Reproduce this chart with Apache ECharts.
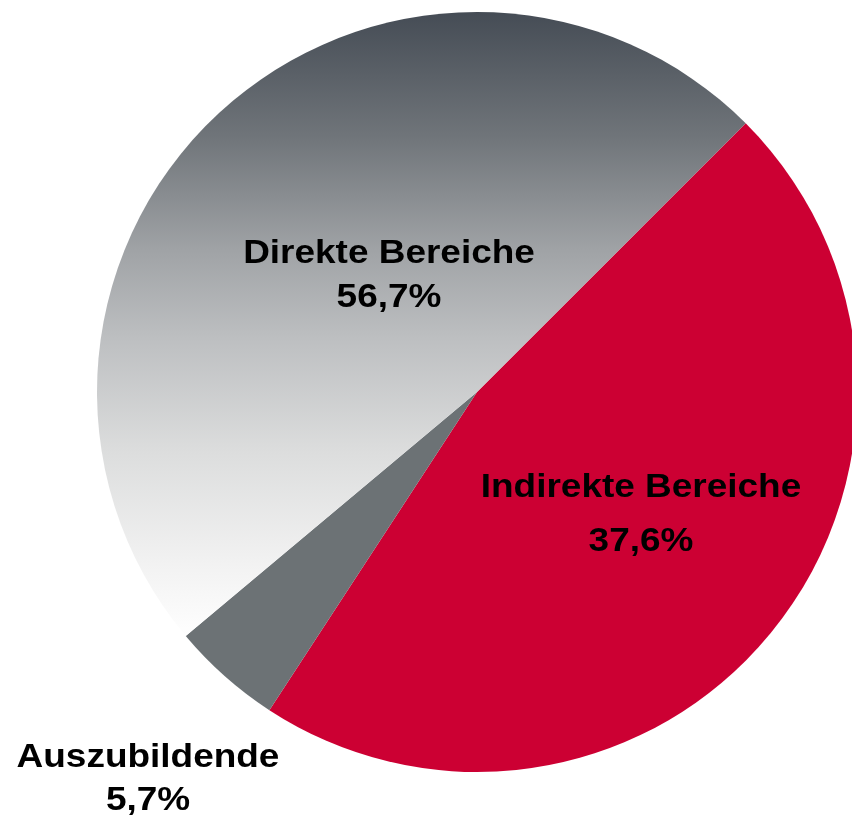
<!DOCTYPE html>
<html>
<head>
<meta charset="utf-8">
<script src="https://cdn.jsdelivr.net/npm/echarts@6/dist/echarts.min.js"></script>
<style>
html,body{margin:0;padding:0;background:#fff;}
#chart{width:852px;height:819px;}
</style>
</head>
<body>
<div id="chart"></div>
<script>
// Slice order clockwise from the upper-right boundary
var categories = ['Indirekte Bereiche', 'Auszubildende', 'Direkte Bereiche'];
// Slice sizes as drawn in the picture (share of the circle)
var sliceValues = [46.7, 4.7, 48.6];
// Percent texts printed on the chart
var percentLabels = ['37,6%', '5,7%', '56,7%'];

var chart = echarts.init(document.getElementById('chart'), null, {renderer: 'canvas'});

var directGradient = new echarts.graphic.LinearGradient(0, 12, 0, 640, [
  {offset: 0, color: '#454c55'},
  {offset: 0.2, color: '#70757a'},
  {offset: 0.38, color: '#a0a3a6'},
  {offset: 0.52, color: '#bdbfc1'},
  {offset: 0.7, color: '#dcdddd'},
  {offset: 0.88, color: '#f2f2f2'},
  {offset: 1, color: '#ffffff'}
], true);

var colors = ['#cc0033', '#6c7275', directGradient];

// text top positions
var labelPos = [
  {x: 641, y1: 471, y2: 525},
  {x: 148, y1: 741, y2: 784},
  {x: 389, y1: 237, y2: 281}
];

var graphics = [];
categories.forEach(function (name, i) {
  var p = labelPos[i];
  [[name, p.y1], [percentLabels[i], p.y2]].forEach(function (t) {
    graphics.push({
      type: 'text',
      x: p.x,
      y: t[1],
      scaleX: 1.12,
      z: 10,
      style: {
        text: t[0],
        fill: '#000',
        font: 'bold 33px "Liberation Sans", Arial, sans-serif',
        textAlign: 'center',
        textVerticalAlign: 'top'
      }
    });
  });
});

chart.setOption({
  animation: false,
  backgroundColor: '#ffffff',
  graphic: graphics,
  series: [{
    type: 'pie',
    center: [477, 392],
    radius: [0, 380],
    startAngle: 45,
    clockwise: true,
    label: {show: false},
    labelLine: {show: false},
    itemStyle: {borderWidth: 0},
    emphasis: {disabled: true},
    data: categories.map(function (c, i) {
      return {name: c, value: sliceValues[i], itemStyle: {color: colors[i]}};
    })
  }]
});
</script>
</body>
</html>
